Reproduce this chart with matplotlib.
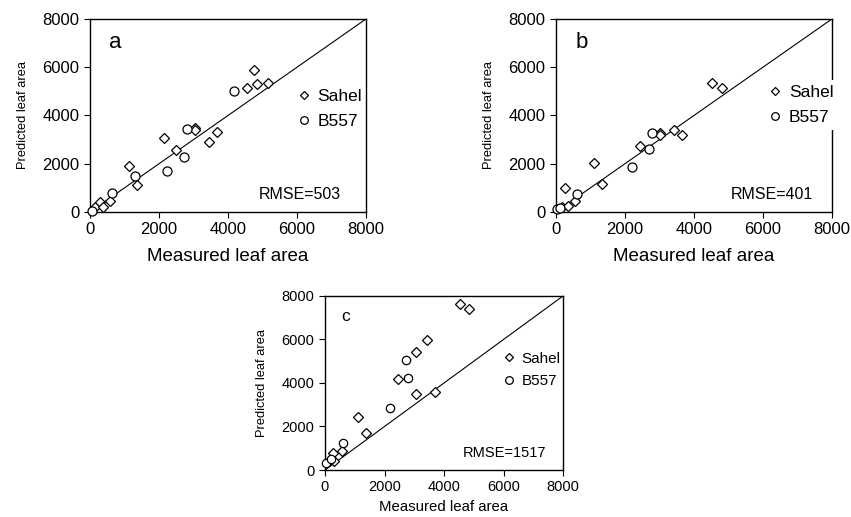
import matplotlib
matplotlib.use("Agg")
import matplotlib.pyplot as plt
from matplotlib.lines import Line2D

plt.rcParams['font.family'] = ['Liberation Sans', 'DejaVu Sans']

# panel a
a_sahel_x = [130, 290, 390, 580, 1140, 1370, 2150, 2480, 3040, 3040, 3460, 3680, 4560, 4750, 4850, 5170]
a_sahel_y = [200, 400, 195, 450, 1920, 1130, 3060, 2570, 3470, 3380, 2890, 3320, 5120, 5870, 5290, 5340]
a_b557_x = [60, 650, 1290, 2220, 2720, 2810, 4160]
a_b557_y = [55, 800, 1480, 1690, 2280, 3450, 5000]

# panel b
b_sahel_x = [180, 270, 340, 560, 1110, 1330, 2440, 3010, 3010, 3410, 3650, 4520, 4810]
b_sahel_y = [200, 980, 260, 450, 2050, 1150, 2740, 3270, 3200, 3380, 3200, 5340, 5140]
b_b557_x = [40, 130, 620, 2190, 2700, 2780]
b_b557_y = [140, 180, 750, 1870, 2600, 3290]

# panel c
c_sahel_x = [170, 280, 300, 570, 1110, 1370, 2460, 3050, 3050, 3430, 3690, 4550, 4850]
c_sahel_y = [460, 790, 420, 890, 2440, 1690, 4180, 5410, 3500, 5990, 3600, 7630, 7420]
c_b557_x = [50, 190, 600, 2200, 2720, 2780]
c_b557_y = [300, 520, 1250, 2830, 5060, 4210]

ticks = [0, 2000, 4000, 6000, 8000]
rmse_text = {'a': 'RMSE=503', 'b': 'RMSE=401', 'c': 'RMSE=1517'}

fig = plt.figure(figsize=(8.51, 5.17), dpi=100)

ax_a = fig.add_axes([0.1058, 0.590, 0.3243, 0.3733])
ax_b = fig.add_axes([0.6533, 0.590, 0.3243, 0.3733])
ax_c = fig.add_axes([0.3819, 0.0909, 0.2797, 0.3366])


def draw_panel(ax, letter, sx, sy, bx, by, big, rmse_pos, leg_pos, white_box):
    tick_fs = 12 if big else 10.5
    xlab_fs = 13.5 if big else 10.8
    dsize = 5.5 if big else 5
    csize = 6.5 if big else 6
    ax.plot([0, 8000], [0, 8000], color='black', lw=0.8, zorder=1)
    ax.plot(sx, sy, ls='none', marker='D', ms=dsize, mfc='white', mec='black',
            mew=0.9, clip_on=False, zorder=3)
    ax.plot(bx, by, ls='none', marker='o', ms=csize, mfc='white', mec='black',
            mew=0.9, clip_on=False, zorder=3)
    ax.set_xlim(0, 8000)
    ax.set_ylim(0, 8000)
    ax.set_xticks(ticks)
    ax.set_yticks(ticks)
    ax.tick_params(direction='out', length=4, width=0.8, labelsize=tick_fs, colors='black')
    for s in ax.spines.values():
        s.set_linewidth(1.0)
        s.set_color('black')
    ax.set_xlabel('Measured leaf area', fontsize=xlab_fs, labelpad=8 if big else 4)
    ax.set_ylabel('Predicted leaf area', fontsize=9.3, labelpad=10)
    ax.text(0.07, 0.88, letter, transform=ax.transAxes, fontsize=16 if big else 12.5,
            va='center', ha='left')
    ax.text(rmse_pos[0], rmse_pos[1], rmse_text[letter], transform=ax.transAxes,
            fontsize=11.5 if big else 10.5, va='center', ha='left')
    handles = [
        Line2D([], [], ls='none', marker='D', ms=4.5, mfc='white', mec='black', mew=0.9),
        Line2D([], [], ls='none', marker='o', ms=5.5, mfc='white', mec='black', mew=0.9),
    ]
    leg = ax.legend(handles, ['Sahel', 'B557'], loc='center left',
                    bbox_to_anchor=leg_pos, frameon=white_box,
                    fontsize=12.5 if big else 11,
                    handlelength=0.8, handletextpad=0.4, labelspacing=0.55,
                    borderpad=0.3, borderaxespad=0)
    if white_box:
        leg.get_frame().set_facecolor('white')
        leg.get_frame().set_edgecolor('none')
        leg.get_frame().set_alpha(1)


draw_panel(ax_a, 'a', a_sahel_x, a_sahel_y, a_b557_x, a_b557_y, True,
           (0.61, 0.09), (0.73, 0.535), False)
draw_panel(ax_b, 'b', b_sahel_x, b_sahel_y, b_b557_x, b_b557_y, True,
           (0.634, 0.09), (0.75, 0.553), True)
draw_panel(ax_c, 'c', c_sahel_x, c_sahel_y, c_b557_x, c_b557_y, False,
           (0.58, 0.10), (0.73, 0.575), False)

fig.savefig('out.png', dpi=100)
